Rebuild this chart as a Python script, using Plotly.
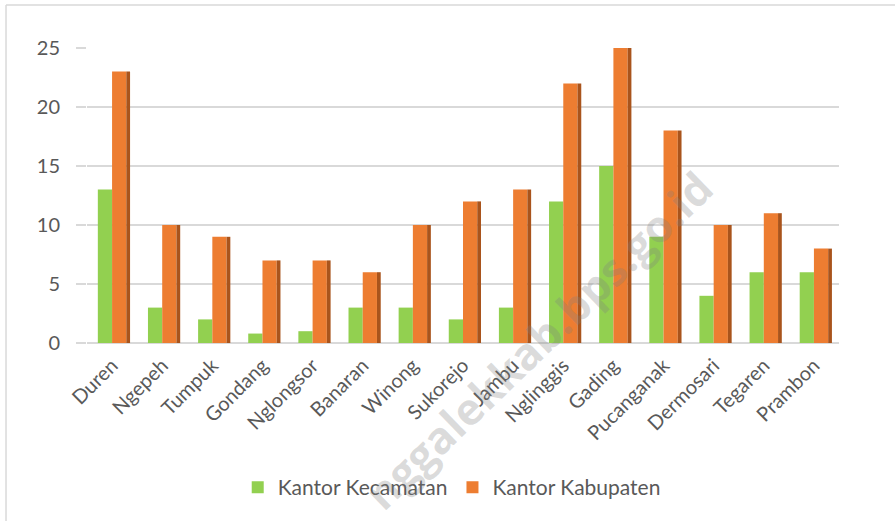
import plotly.graph_objects as go

# Data
desa = ["Duren", "Ngepeh", "Tumpuk", "Gondang", "Nglongsor", "Banaran", "Winong",
        "Sukorejo", "Jambu", "Nglinggis", "Gading", "Pucanganak", "Dermosari",
        "Tegaren", "Prambon"]
kantor_kecamatan = [13, 3, 2, 0.8, 1, 3, 3, 2, 3, 12, 15, 9, 4, 6, 6]
kantor_kabupaten = [23, 10, 9, 7, 7, 6, 10, 12, 13, 22, 25, 18, 10, 11, 8]
y_ticks = [0, 5, 10, 15, 20, 25]

GREEN = "#92d050"
ORANGE = "#ed7d31"
ORANGE_SIDE = "#a9541c"
TEXT = "#595959"
GRID = "#d9d9d9"
FONT = "Lato, 'Open Sans', sans-serif"

BAR_W = 0.284   # one bar as a share of a category
SIDE_W = 0.075  # fake 3D side face

fig = go.Figure()
fig.add_trace(go.Bar(
    x=desa, y=kantor_kecamatan, name="Kantor Kecamatan",
    marker=dict(color=GREEN, line=dict(width=0)),
    width=BAR_W, offset=-BAR_W,
))
fig.add_trace(go.Bar(
    x=desa, y=kantor_kabupaten, name="Kantor Kabupaten",
    marker=dict(color=ORANGE, line=dict(width=0)),
    width=BAR_W, offset=0,
))
# dark side face of the orange bars
fig.add_trace(go.Bar(
    x=desa, y=kantor_kabupaten, showlegend=False, hoverinfo="skip",
    marker=dict(color=ORANGE_SIDE, line=dict(width=0)),
    width=SIDE_W, offset=BAR_W,
))

fig.update_layout(
    width=895, height=521,
    barmode="overlay",
    paper_bgcolor="white",
    plot_bgcolor="white",
    font=dict(family=FONT, size=20, color=TEXT),
    margin=dict(l=87, r=56, t=48, b=178, autoexpand=False),
    showlegend=True,
    legend=dict(
        orientation="h",
        x=0.485, xanchor="center",
        y=-0.49, yanchor="middle",
        font=dict(size=21, color=TEXT),
        itemsizing="constant",
        traceorder="normal",
    ),
    # chart border (left and top edges)
    shapes=[
        dict(type="line", xref="paper", yref="paper",
             x0=-0.1077, x1=-0.1077, y0=1.1458, y1=-0.65,
             line=dict(color=GRID, width=1.5)),
        dict(type="line", xref="paper", yref="paper",
             x0=-0.1077, x1=1.08, y0=1.1458, y1=1.1458,
             line=dict(color=GRID, width=1.5)),
    ],
    # watermark, only the part that shows in the reference
    annotations=[
        dict(text="<b>nggalekkab.bps.go.id</b>", xref="paper", yref="paper",
             x=0.60, y=0.01, xanchor="center", yanchor="middle",
             textangle=-44, showarrow=False,
             font=dict(family="'Open Sans', sans-serif", size=44,
                       color="rgba(128,128,128,0.28)")),
    ],
)

fig.update_xaxes(
    tickangle=-45,
    showgrid=False,
    showline=False,
    ticks="",
    automargin=False,
    ticklabelstandoff=6,
    tickfont=dict(size=20, color=TEXT),
    range=[-0.5, len(desa) - 0.5],
)
fig.update_yaxes(
    range=[0, 25],
    tickvals=y_ticks,
    automargin=False,
    showgrid=True,
    gridcolor=GRID,
    gridwidth=2,
    zeroline=True,
    zerolinecolor=GRID,
    zerolinewidth=2,
    showline=False,
    ticks="outside",
    ticklen=10,
    tickwidth=2,
    tickcolor=GRID,
    ticklabelstandoff=12,
    tickfont=dict(size=20, color=TEXT),
)

fig.write_html("out.html", config={"displayModeBar": False},
               post_script="document.body.style.margin='0';")
